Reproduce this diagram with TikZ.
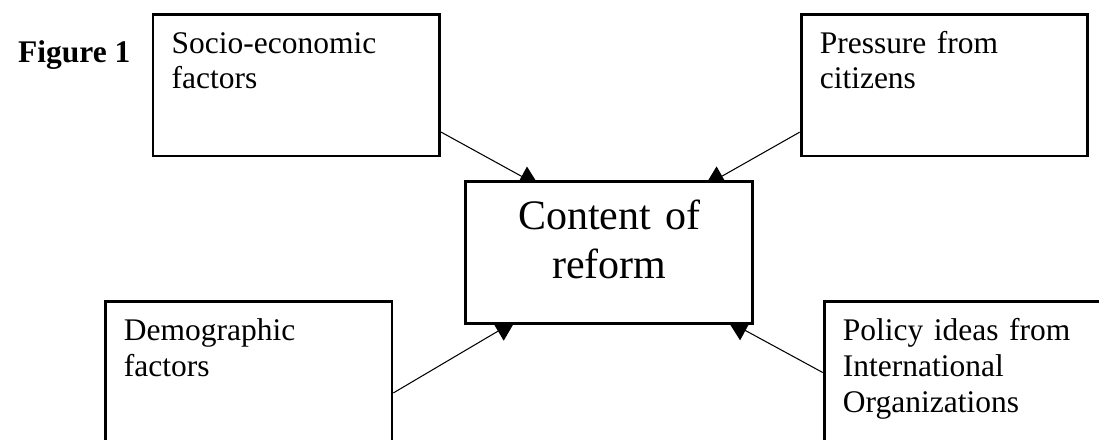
\documentclass[tikz,border=0pt]{standalone}
\usepackage{fontspec}
\setmainfont{Liberation Serif}
\usetikzlibrary{calc, arrows.meta, backgrounds}

\begin{document}
\begin{tikzpicture}[
        >={Triangle[length=7.6pt, width=8.4pt]},
        line width=0.95pt,
        box/.style={
            draw=black,
            fill=white,
            line width=1.1pt,
            align=left,
            inner sep=0.25cm,
            text width=3.34cm,
            text height=0.27cm,
            text depth=1.13cm,
            font=\fontsize{12}{13.7}\selectfont
        },
        mainbox/.style={
            box,
            align=center,
            text height=0.39cm,
            text depth=1.01cm,
            font=\fontsize{16}{18.7}\selectfont
        }
    ]
        \useasboundingbox (0,0) rectangle (14.72,-5.89);

        \node[anchor=base west, font=\fontsize{12}{14}\selectfont\bfseries] (fig) at (0.11,-0.84) {Figure 1};

        \node[box] (socio)    at (3.97,-1.14)  {Socio-economic\\factors};
        \node[box] (citizens) at (12.65,-1.14) {Pressure from\\citizens};
        \node[mainbox] (reform) at (8.16,-3.38) {Content of\\reform};
        \node[box] (demog)    at (3.33,-4.99)  {Demographic\\factors};
        \node[box] (policy)   at (12.96,-4.99) {Policy ideas from\\International\\Organizations};

        \begin{scope}[on background layer]
            \draw[->] (socio.-18.4)    -- ($(reform.north west)+(1.00,-0.08)$);
            \draw[->] (citizens.198.4) -- ($(reform.north east)+(-0.66,-0.08)$);
            \draw[->] (demog.-8.9)     -- ($(reform.south west)+(0.68,0.05)$);
            \draw[->] (policy.west)    -- ($(reform.south east)+(-0.35,0.05)$);
        \end{scope}

    \end{tikzpicture}
\end{document}
